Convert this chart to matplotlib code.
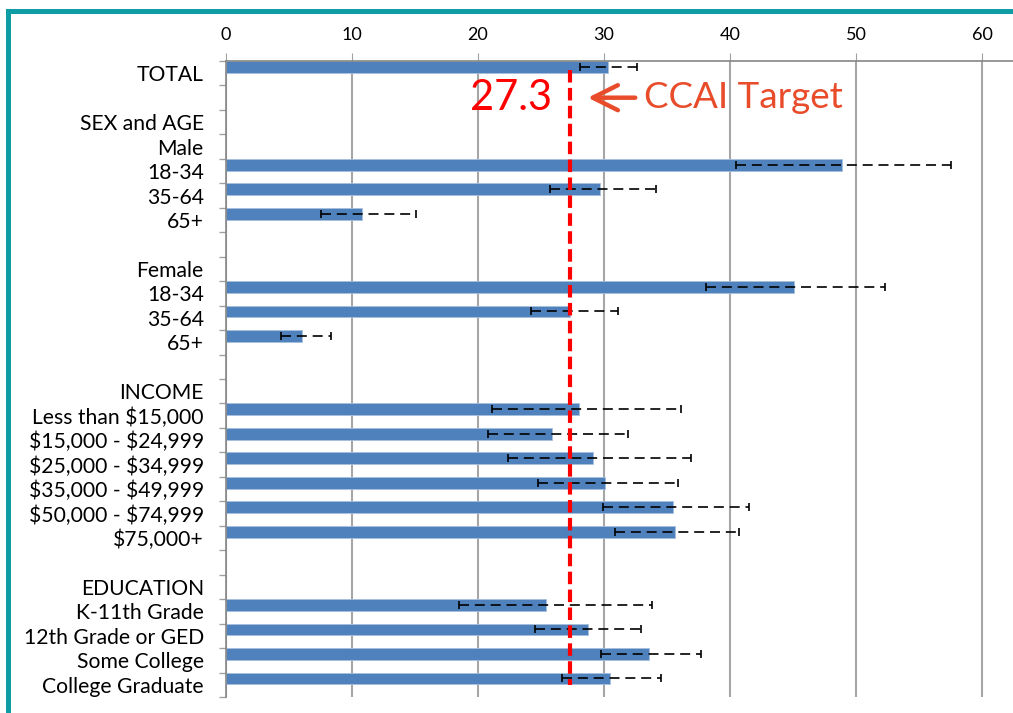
import matplotlib.pyplot as plt
from matplotlib.patches import Rectangle

plt.rcParams['font.family'] = ['Lato', 'DejaVu Sans']
plt.rcParams['text.parse_math'] = False

labels = ['TOTAL', '', 'SEX and AGE', 'Male', '18-34', '35-64', '65+', '',
          'Female', '18-34', '35-64', '65+', '',
          'INCOME', 'Less than $15,000', '$15,000 - $24,999', '$25,000 - $34,999',
          '$35,000 - $49,999', '$50,000 - $74,999', '$75,000+', '',
          'EDUCATION', 'K-11th Grade', '12th Grade or GED', 'Some College',
          'College Graduate']
# None = heading / spacer row, no bar
values = [30.3, None, None, None, 48.9, 29.7, 10.8, None,
          None, 45.1, 27.3, 6.0, None,
          None, 28.0, 25.9, 29.1, 30.1, 35.5, 35.6, None,
          None, 25.4, 28.7, 33.6, 30.5]
lower = [28.1, None, None, None, 40.5, 25.7, 7.5, None,
         None, 38.1, 24.2, 4.4, None,
         None, 21.1, 20.8, 22.4, 24.8, 29.9, 30.9, None,
         None, 18.5, 24.5, 29.8, 26.7]
upper = [32.6, None, None, None, 57.5, 34.1, 15.1, None,
         None, 52.3, 31.1, 8.3, None,
         None, 36.1, 31.9, 36.9, 35.9, 41.5, 40.7, None,
         None, 33.8, 32.9, 37.7, 34.5]
target = 27.3

W, H = 1013, 713
fig = plt.figure(figsize=(W / 100, H / 100), dpi=100)
ax = fig.add_axes([226 / W, 1 - 697 / H, 1 - 226 / W, (697 - 61) / H])

rows = [i for i, v in enumerate(values) if v is not None]
vals = [values[i] for i in rows]
ybar = [i - 0.26 for i in rows]
xerr = [[values[i] - lower[i] for i in rows], [upper[i] - values[i] for i in rows]]

ax.barh(ybar, vals, height=0.48, color='#4F81BD', edgecolor='#A7BFDE',
        linewidth=0.6, zorder=2)
eb = ax.errorbar(vals, ybar, xerr=xerr, fmt='none', ecolor='black',
                 elinewidth=1.2, capsize=2.6, capthick=1.2, zorder=3)
eb[2][0].set_linestyle((0, (6, 3.5)))

ax.plot([target, target], [-0.12, 25.0], color='#FF0000', lw=3,
        linestyle=(0, (3, 1.3)), zorder=4)

ax.text(25.85, 1.0, '27.3', color='#FF0000', fontsize=30,
        ha='right', va='center')
ax.annotate('', xy=(28.5, 1.0), xytext=(32.7, 1.0),
            arrowprops=dict(arrowstyle='->, head_length=0.9, head_width=0.45',
                            lw=3.2, color='#E84C2B', mutation_scale=20))
ax.text(33.2, 1.0, 'CCAI Target', color='#E84C2B', fontsize=26.5,
        ha='left', va='center')

ax.set_xlim(0, 62.46)
ax.set_ylim(25.5, -0.5)
ax.set_xticks(range(0, 61, 10))
ax.xaxis.tick_top()
ax.tick_params(axis='x', length=6, color='#A0A0A0', labelsize=13, pad=7)
ax.grid(axis='x', color='#A6A6A6', lw=1.5, zorder=0)
ax.set_axisbelow(True)

ax.set_yticks(range(len(labels)))
ax.set_yticklabels(labels)
ax.set_yticks([i - 0.5 for i in range(len(labels) + 1)], minor=True)
ax.tick_params(axis='y', which='major', length=0, labelsize=15.2, pad=16)
ax.tick_params(axis='y', which='minor', length=5, color='#A0A0A0', width=1)

for s in ['right', 'bottom']:
    ax.spines[s].set_visible(False)
for s in ['top', 'left']:
    ax.spines[s].set_color('#868686')
    ax.spines[s].set_linewidth(1.2)

fig.add_artist(Rectangle((7.5 / W, -0.1), 1.2, 1.1 - 10.8 / H,
                         transform=fig.transFigure, fill=False,
                         edgecolor='#0E9DA4', lw=3.6))

plt.savefig('out.png', dpi=100)
